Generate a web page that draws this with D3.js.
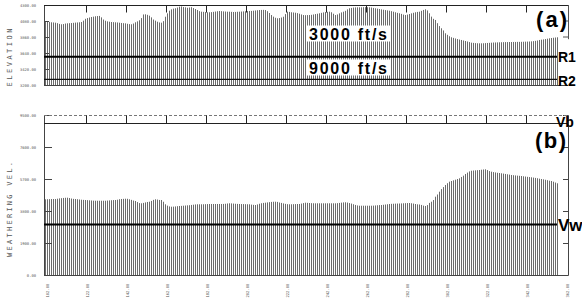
<!DOCTYPE html>
<html lang="en">
<head>
<meta charset="UTF-8">
<title>Elevation and weathering velocity</title>
<script src="https://d3js.org/d3.v7.min.js"></script>
<style>
  body { margin: 0; background: #fff; }
  svg { display: block; }
  .tick text { font-family: "DejaVu Sans Mono", monospace; font-size: 3.8px; fill: #555; }
  .axis path, .axis line { stroke: #444; }
  .title { font-family: "DejaVu Sans Mono", monospace; font-size: 7px; fill: #555; }
  .big { font-family: "Liberation Sans", Arial, sans-serif; font-weight: bold; fill: #000; }
</style>
</head>
<body>
<svg width="582" height="304"></svg>
<script>
// station numbers of the first bar, bars follow one per station
const stationStart = 101;

// surface elevation (ft), panel (a)
const elevation = [
  4075, 4070, 4068, 4062, 4060, 4057, 4050, 4040, 4035, 4038,
  4045, 4048, 4050, 4052, 4055, 4058, 4060, 4062, 4066, 4085,
  4110, 4120, 4128, 4135, 4140, 4145, 4148, 4150, 4130, 4100,
  4084, 4075, 4070, 4066, 4064, 4062, 4060, 4057, 4053, 4050,
  4048, 4042, 4037, 4035, 4045, 4062, 4075, 4090, 4120, 4170,
  4172, 4165, 4153, 4130, 4100, 4085, 4070, 4060, 4057, 4078,
  4139, 4185, 4222, 4240, 4250, 4255, 4265, 4277, 4280, 4272,
  4268, 4262, 4266, 4270, 4258, 4245, 4231, 4215, 4208, 4206,
  4203, 4200, 4200, 4202, 4206, 4210, 4214, 4217, 4215, 4212,
  4210, 4208, 4208, 4206, 4204, 4205, 4207, 4208, 4210, 4212,
  4214, 4216, 4217, 4219, 4222, 4225, 4228, 4231, 4232, 4233,
  4231, 4215, 4190, 4162, 4140, 4125, 4117, 4120, 4128, 4139,
  4175, 4208, 4205, 4200, 4197, 4194, 4188, 4180, 4170, 4162,
  4160, 4161, 4162, 4165, 4170, 4175, 4180, 4186, 4192, 4198,
  4203, 4206, 4208, 4200, 4180, 4162, 4170, 4185, 4198, 4208,
  4220, 4240, 4255, 4260, 4265, 4267, 4268, 4268, 4268, 4270,
  4270, 4269, 4268, 4265, 4260, 4255, 4250, 4245, 4240, 4235,
  4230, 4226, 4222, 4215, 4208, 4200, 4192, 4186, 4178, 4168,
  4162, 4168, 4176, 4185, 4193, 4200, 4205, 4208, 4220, 4232,
  4241, 4225, 4186, 4140, 4110, 4094, 4050, 4010, 3980, 3950,
  3911, 3890, 3870, 3856, 3848, 3840, 3832, 3825, 3819, 3812,
  3805, 3798, 3790, 3782, 3779, 3776, 3774, 3773, 3773, 3774,
  3776, 3778, 3780, 3782, 3784, 3785, 3786, 3787, 3788, 3789,
  3790, 3790, 3791, 3791, 3792, 3792, 3793, 3793, 3794, 3795,
  3796, 3797, 3798, 3800, 3803, 3807, 3812, 3819, 3823, 3827,
  3832, 3837, 3842, 3846, 3850, 3853, 3856
];

// weathering velocity (ft/s), panel (b)
const weatheringVel = [
  4495, 4500, 4505, 4510, 4512, 4513, 4530, 4550, 4560, 4575,
  4585, 4590, 4570, 4540, 4520, 4513, 4500, 4485, 4470, 4460,
  4453, 4445, 4435, 4425, 4415, 4411, 4410, 4410, 4411, 4411,
  4411, 4420, 4430, 4440, 4448, 4453, 4470, 4500, 4513, 4520,
  4530, 4525, 4495, 4460, 4420, 4394, 4330, 4270, 4257, 4280,
  4310, 4335, 4352, 4400, 4460, 4495, 4480, 4455, 4453, 4350,
  4198, 4120, 4070, 4055, 4060, 4070, 4085, 4097, 4105, 4115,
  4125, 4135, 4144, 4160, 4175, 4190, 4198, 4198, 4198, 4200,
  4205, 4210, 4214, 4216, 4216, 4216, 4216, 4216, 4216, 4220,
  4230, 4245, 4257, 4250, 4240, 4230, 4222, 4216, 4212, 4210,
  4205, 4200, 4198, 4180, 4165, 4156, 4190, 4230, 4260, 4280,
  4293, 4310, 4325, 4340, 4350, 4352, 4340, 4305, 4280, 4250,
  4225, 4205, 4198, 4200, 4205, 4210, 4214, 4216, 4240, 4270,
  4293, 4285, 4275, 4265, 4260, 4257, 4257, 4257, 4257, 4257,
  4257, 4257, 4257, 4257, 4257, 4257, 4265, 4280, 4295, 4310,
  4317, 4300, 4270, 4240, 4200, 4160, 4130, 4115, 4115, 4115,
  4115, 4115, 4115, 4115, 4120, 4130, 4140, 4150, 4156, 4170,
  4185, 4200, 4216, 4225, 4232, 4238, 4242, 4245, 4250, 4258,
  4265, 4270, 4275, 4260, 4240, 4215, 4195, 4186, 4160, 4120,
  4097, 4150, 4280, 4352, 4450, 4649, 4780, 4946, 5100, 5220,
  5344, 5450, 5540, 5581, 5620, 5660, 5700, 5741, 5820, 5900,
  5997, 6080, 6150, 6193, 6205, 6215, 6225, 6234, 6250, 6265,
  6276, 6230, 6170, 6134, 6110, 6090, 6070, 6055, 6038, 6020,
  6000, 5980, 5960, 5938, 5925, 5912, 5900, 5890, 5878, 5862,
  5846, 5830, 5815, 5801, 5785, 5765, 5745, 5720, 5700, 5680,
  5655, 5630, 5600, 5581, 5540, 5490, 5445
];

const xTicks = [102, 122, 142, 162, 182, 202, 222, 242, 262, 282, 302, 322, 342, 362];
const elevTicks = [3200, 3420, 3640, 3860, 4080, 4300];
const velTicks = [0, 1900, 3800, 5700, 7600, 9500];

// refractor / velocity lines
const r1Level = 3590, r2Level = 3278, vwLevel = 3000;
const r1Label = "R1", r2Label = "R2", vwLabel = "Vw", vbLabel = "Vb";
const velLabels = ["3000 ft/s", "9000 ft/s"];

const svg = d3.select("svg");
const left = 44, right = 568, lineEnd = 557;

const x = d3.scaleLinear().domain([102, 362]).range([47, 567]);
const yA = d3.scaleLinear().domain([3200, 4300]).range([85, 5]);
const yB = d3.scaleLinear().domain([0, 9500]).range([275, 115]);

const px = s => Math.round(x(s)) + 0.5;
const fmt = d3.format(".2f");
const barColor = "#6c6c6c";
const inner = xTicks.slice(1, -1);

// ---------- panel (a) ----------
svg.append("g")
  .selectAll("line")
  .data(elevation)
  .join("line")
    .attr("x1", (d, i) => px(stationStart + i))
    .attr("x2", (d, i) => px(stationStart + i))
    .attr("y1", yA(3200))
    .attr("y2", d => yA(d))
    .attr("stroke", barColor)
    .attr("stroke-width", 1);

svg.append("g")
    .attr("class", "axis")
    .attr("transform", `translate(${left},0)`)
    .call(d3.axisLeft(yA).tickValues(elevTicks).tickFormat(fmt).tickSize(-5).tickPadding(8));

// top border with station ticks, drawn as one path
const topY = yA(4300) + 0.5;
svg.append("path")
    .attr("d", `M${left},${topY}H${right}` + inner.map(d => `M${px(d) - 1},${topY}v7`).join(""))
    .attr("fill", "none")
    .attr("stroke", "#222")
    .attr("stroke-width", 1);
svg.append("line")
    .attr("x1", left).attr("x2", right)
    .attr("y1", yA(3200) + 0.5).attr("y2", yA(3200) + 0.5)
    .attr("stroke", "#444");

// right border (only upper part visible)
svg.append("path")
    .attr("d", `M${right + 0.5},${yA(4300)}V${yA(3830)}` +
      [4080, 3860].map(v => `M${right},${yA(v)}h-5`).join(""))
    .attr("fill", "none")
    .attr("stroke", "#555");

svg.append("line")
    .attr("x1", left).attr("x2", lineEnd)
    .attr("y1", yA(r1Level)).attr("y2", yA(r1Level))
    .attr("stroke", "#000").attr("stroke-width", 2);
svg.append("line")
    .attr("x1", left).attr("x2", lineEnd)
    .attr("y1", yA(r2Level)).attr("y2", yA(r2Level))
    .attr("stroke", "#111").attr("stroke-width", 1.4);

// velocity labels on white boxes
const labelY = [39.5, 73.5];
velLabels.forEach((t, i) => {
  svg.append("rect")
      .attr("x", 306).attr("y", labelY[i] - 14)
      .attr("width", 84).attr("height", 16)
      .attr("fill", "#fff");
  svg.append("text")
      .attr("class", "big")
      .attr("x", 309).attr("y", labelY[i])
      .attr("font-size", 16)
      .attr("textLength", 78)
      .text(t);
});

svg.append("text").attr("class", "big")
    .attr("x", 536).attr("y", 27).attr("font-size", 22).attr("textLength", 31)
    .text("(a)");
svg.append("text").attr("class", "big")
    .attr("x", 558).attr("y", 62).attr("font-size", 14)
    .text(r1Label);
svg.append("text").attr("class", "big")
    .attr("x", 558).attr("y", 85.5).attr("font-size", 14)
    .text(r2Label);

svg.append("text")
    .attr("class", "title")
    .attr("transform", `translate(12,${(28 + 87) / 2}) rotate(-90)`)
    .attr("text-anchor", "middle")
    .attr("textLength", 58)
    .text("ELEVATION");

// ---------- panel (b) ----------
svg.append("g")
  .selectAll("line")
  .data(weatheringVel)
  .join("line")
    .attr("x1", (d, i) => px(stationStart + i))
    .attr("x2", (d, i) => px(stationStart + i))
    .attr("y1", yB(0))
    .attr("y2", d => yB(d))
    .attr("stroke", barColor)
    .attr("stroke-width", 1);

svg.append("g")
    .attr("class", "axis")
    .attr("transform", `translate(${left},0)`)
    .call(d3.axisLeft(yB).tickValues(velTicks).tickFormat(fmt).tickSize(-8).tickPadding(8));

svg.append("g")
    .attr("class", "axis")
    .attr("transform", `translate(${right},0)`)
    .call(d3.axisRight(yB).tickValues(velTicks.slice(1, -1)).tickFormat("").tickSize(-5));

// top strip
const stripTop = yB(9500) + 0.5, stripBot = yB(9500) + 8.5;
svg.append("line")
    .attr("x1", left).attr("x2", right)
    .attr("y1", stripTop).attr("y2", stripTop)
    .attr("stroke", "#777").attr("stroke-dasharray", "3,2");
svg.append("path")
    .attr("d", `M${left},${stripBot}H${right}` + inner.map(d => `M${px(d) - 1},${stripTop}V${stripBot}`).join(""))
    .attr("fill", "none")
    .attr("stroke", "#222");

// station axis
const xAxis = svg.append("g")
    .attr("class", "axis")
    .attr("transform", `translate(0,${yB(0) + 0.5})`)
    .call(d3.axisBottom(x).tickValues(xTicks).tickFormat(fmt).tickSize(0));
xAxis.select(".domain").attr("d", `M${left},0H${right}`);
xAxis.selectAll(".tick text")
    .attr("transform", "rotate(-90)")
    .attr("text-anchor", "start")
    .attr("x", -22)
    .attr("y", 0)
    .attr("dy", "0.35em");

svg.append("line")
    .attr("x1", left).attr("x2", lineEnd)
    .attr("y1", yB(vwLevel)).attr("y2", yB(vwLevel))
    .attr("stroke", "#000").attr("stroke-width", 2);

svg.append("text").attr("class", "big")
    .attr("x", 556).attr("y", 127).attr("font-size", 14)
    .text(vbLabel);
svg.append("text").attr("class", "big")
    .attr("x", 535).attr("y", 147.5).attr("font-size", 22).attr("textLength", 31)
    .text("(b)");
svg.append("text").attr("class", "big")
    .attr("x", 558).attr("y", 231).attr("font-size", 17)
    .text(vwLabel);

svg.append("text")
    .attr("class", "title")
    .attr("transform", `translate(12,${(162 + 257) / 2}) rotate(-90)`)
    .attr("text-anchor", "middle")
    .attr("textLength", 95)
    .text("WEATHERING VEL.");
</script>
</body>
</html>
